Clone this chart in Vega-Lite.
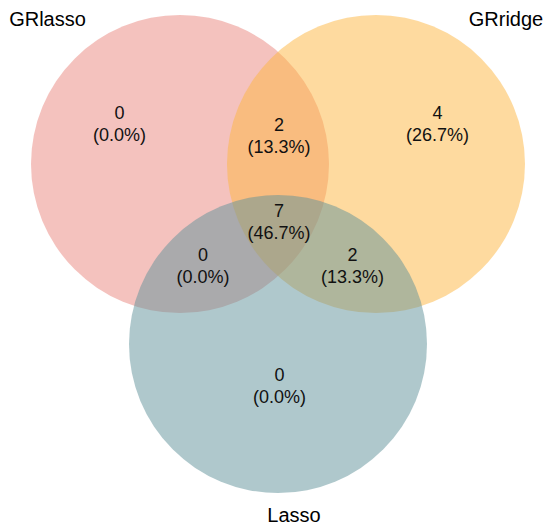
{
  "$schema": "https://vega.github.io/schema/vega-lite/v6.json",
  "width": 549,
  "height": 529,
  "autosize": {"type": "fit", "contains": "padding"},
  "padding": 0,
  "background": "white",
  "config": {"view": {"stroke": null}},
  "datasets": {
    "circles": [
      {"set": "GRlasso", "cx": 0, "cy": 0},
      {"set": "GRridge", "cx": 1.3154, "cy": 0},
      {"set": "Lasso", "cx": 0.6577, "cy": -1.2081}
    ],
    "regions": [
      {"region": "GRlasso only", "cx": -0.406, "cy": 0.2617, "count": "0", "pct": "(0.0%)"},
      {"region": "GRlasso & GRridge", "cx": 0.6644, "cy": 0.1812, "count": "2", "pct": "(13.3%)"},
      {"region": "GRridge only", "cx": 1.7282, "cy": 0.2617, "count": "4", "pct": "(26.7%)"},
      {"region": "all", "cx": 0.6644, "cy": -0.396, "count": "7", "pct": "(46.7%)"},
      {"region": "GRlasso & Lasso", "cx": 0.1544, "cy": -0.6913, "count": "0", "pct": "(0.0%)"},
      {"region": "GRridge & Lasso", "cx": 1.1577, "cy": -0.6913, "count": "2", "pct": "(13.3%)"},
      {"region": "Lasso only", "cx": 0.6678, "cy": -1.4966, "count": "0", "pct": "(0.0%)"}
    ],
    "labels": [
      {"set": "GRlasso", "cx": -0.8893, "cy": 0.9664},
      {"set": "GRridge", "cx": 2.1879, "cy": 0.9664},
      {"set": "Lasso", "cx": 0.7651, "cy": -2.3604}
    ]
  },
  "encoding": {
    "x": {"field": "cx", "type": "quantitative", "axis": null,
          "scale": {"domain": [-1.2081, 2.4765], "nice": false, "zero": false}},
    "y": {"field": "cy", "type": "quantitative", "axis": null,
          "scale": {"domain": [-2.4497, 1.1007], "nice": false, "zero": false}}
  },
  "layer": [
    {
      "data": {"name": "circles"},
      "mark": {"type": "point", "shape": "circle", "filled": true, "size": 88804, "opacity": 0.5, "strokeWidth": 0},
      "encoding": {
        "color": {"field": "set", "type": "nominal", "legend": null,
                  "scale": {"domain": ["GRlasso", "GRridge", "Lasso"], "range": ["#E9857D", "#FDB53F", "#5F9199"]}}
      }
    },
    {
      "data": {"name": "regions"},
      "mark": {"type": "text", "font": "Liberation Sans", "fontSize": 18, "dy": -11, "baseline": "middle", "align": "center", "color": "#111111"},
      "encoding": {"text": {"field": "count"}}
    },
    {
      "data": {"name": "regions"},
      "mark": {"type": "text", "font": "Liberation Sans", "fontSize": 18, "dy": 11, "baseline": "middle", "align": "center", "color": "#111111"},
      "encoding": {"text": {"field": "pct"}}
    },
    {
      "data": {"name": "labels"},
      "mark": {"type": "text", "font": "Liberation Sans", "fontSize": 20, "baseline": "middle", "align": "center", "color": "#000000"},
      "encoding": {"text": {"field": "set"}}
    }
  ]
}
